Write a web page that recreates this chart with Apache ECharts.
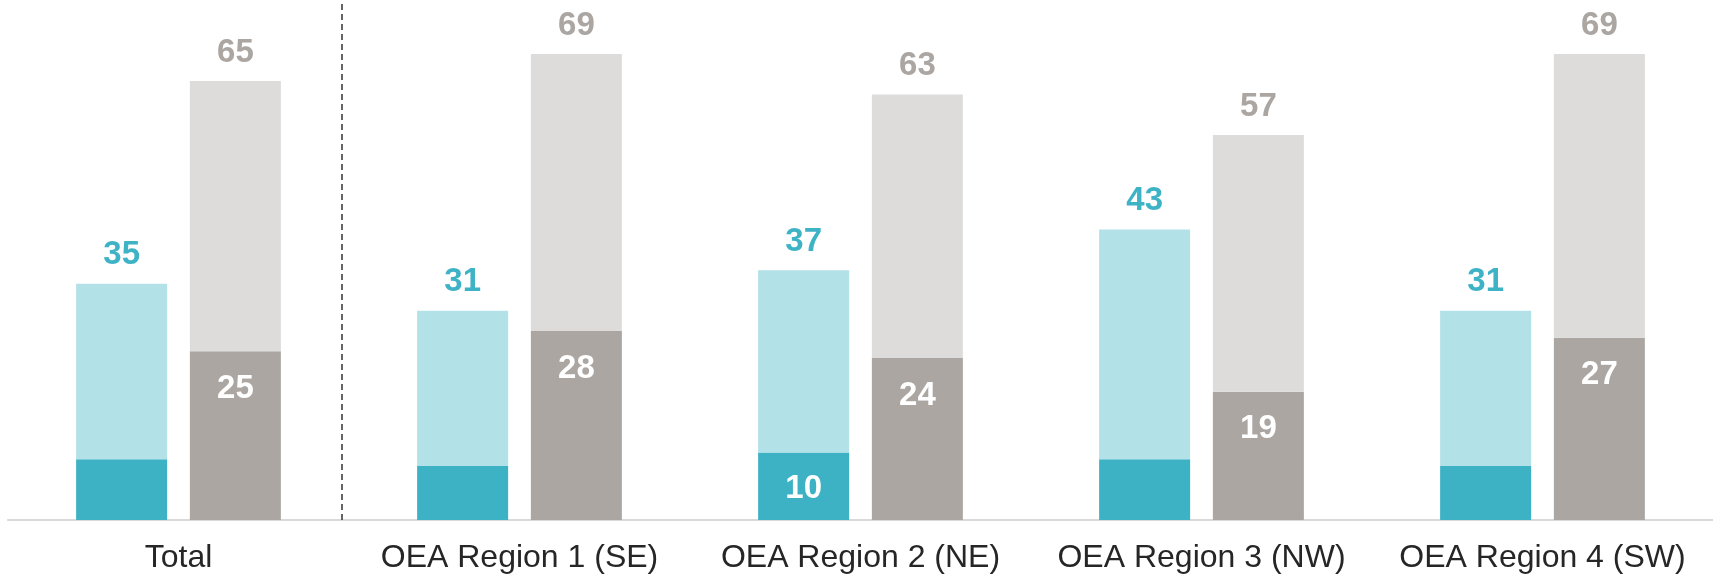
<!DOCTYPE html>
<html>
<head>
<meta charset="utf-8">
<script src="https://cdn.jsdelivr.net/npm/echarts@6/dist/echarts.min.js"></script>
<style>
  html, body { margin: 0; padding: 0; background: #fff; }
  #chart { width: 1713px; height: 576px; }
</style>
</head>
<body>
<div id="chart"></div>
<script>
// data
var categories = ['Total', 'OEA Region 1 (SE)', 'OEA Region 2 (NE)', 'OEA Region 3 (NW)', 'OEA Region 4 (SW)'];
var tealTotal = [35, 31, 37, 43, 31];
var tealInner = [9, 8, 10, 9, 8];
var tealInnerShown = [false, false, true, false, false];
var grayTotal = [65, 69, 63, 57, 69];
var grayInner = [25, 28, 24, 19, 27];

var valueFont = 'Liberation Sans, Arial, sans-serif';

function rest(total, inner) {
    return total.map(function (v, i) { return v - inner[i]; });
}

var option = {
    backgroundColor: '#fff',
    animation: false,
    grid: { left: 8, right: -4.5, top: 0, bottom: 56 },
    xAxis: [
        {
            type: 'category',
            data: categories,
            axisLine: { show: true, lineStyle: { color: '#d9d9d9', width: 2 } },
            axisTick: { show: false },
            axisLabel: {
                interval: 0,
                color: '#262626',
                fontFamily: valueFont,
                fontSize: 32,
                margin: 22
            }
        },
        // hidden axis, only used to place the divider line
        { type: 'value', min: 0, max: 5, show: false }
    ],
    yAxis: { type: 'value', min: 0, max: 77, show: false, splitLine: { show: false } },
    series: [
        {
            name: 'teal inner',
            type: 'bar',
            stack: 'teal',
            barWidth: 91,
            barGap: '25%',
            itemStyle: { color: '#3db2c5' },
            data: tealInner.map(function (v, i) {
                return { value: v, label: { show: tealInnerShown[i] } };
            }),
            label: {
                position: 'insideTop',
                distance: 20,
                color: '#fff',
                fontFamily: valueFont,
                fontWeight: 'bold',
                fontSize: 33
            }
        },
        {
            name: 'teal rest',
            type: 'bar',
            stack: 'teal',
            barWidth: 91,
            itemStyle: { color: '#b2e1e7' },
            data: rest(tealTotal, tealInner),
            label: {
                show: true,
                position: 'top',
                distance: 12,
                color: '#3fb3c6',
                fontFamily: valueFont,
                fontWeight: 'bold',
                fontSize: 33,
                formatter: function (p) { return tealTotal[p.dataIndex]; }
            }
        },
        {
            name: 'gray inner',
            type: 'bar',
            stack: 'gray',
            barWidth: 91,
            barGap: '25%',
            itemStyle: { color: '#aba6a2' },
            data: grayInner,
            label: {
                show: true,
                position: 'insideTop',
                distance: 21,
                color: '#fff',
                fontFamily: valueFont,
                fontWeight: 'bold',
                fontSize: 33
            }
        },
        {
            name: 'gray rest',
            type: 'bar',
            stack: 'gray',
            barWidth: 91,
            itemStyle: { color: '#dddcdb' },
            data: rest(grayTotal, grayInner),
            label: {
                show: true,
                position: 'top',
                distance: 12,
                color: '#aba6a2',
                fontFamily: valueFont,
                fontWeight: 'bold',
                fontSize: 33,
                formatter: function (p) { return grayTotal[p.dataIndex]; }
            }
        },
        {
            name: 'divider',
            type: 'line',
            xAxisIndex: 1,
            data: [],
            markLine: {
                silent: true,
                symbol: 'none',
                label: { show: false },
                lineStyle: { color: '#333', width: 1.5, type: [6, 4] },
                data: [{ xAxis: 0.985 }]
            }
        }
    ]
};

var myChart = echarts.init(document.getElementById('chart'));
myChart.setOption(option);
</script>
</body>
</html>
